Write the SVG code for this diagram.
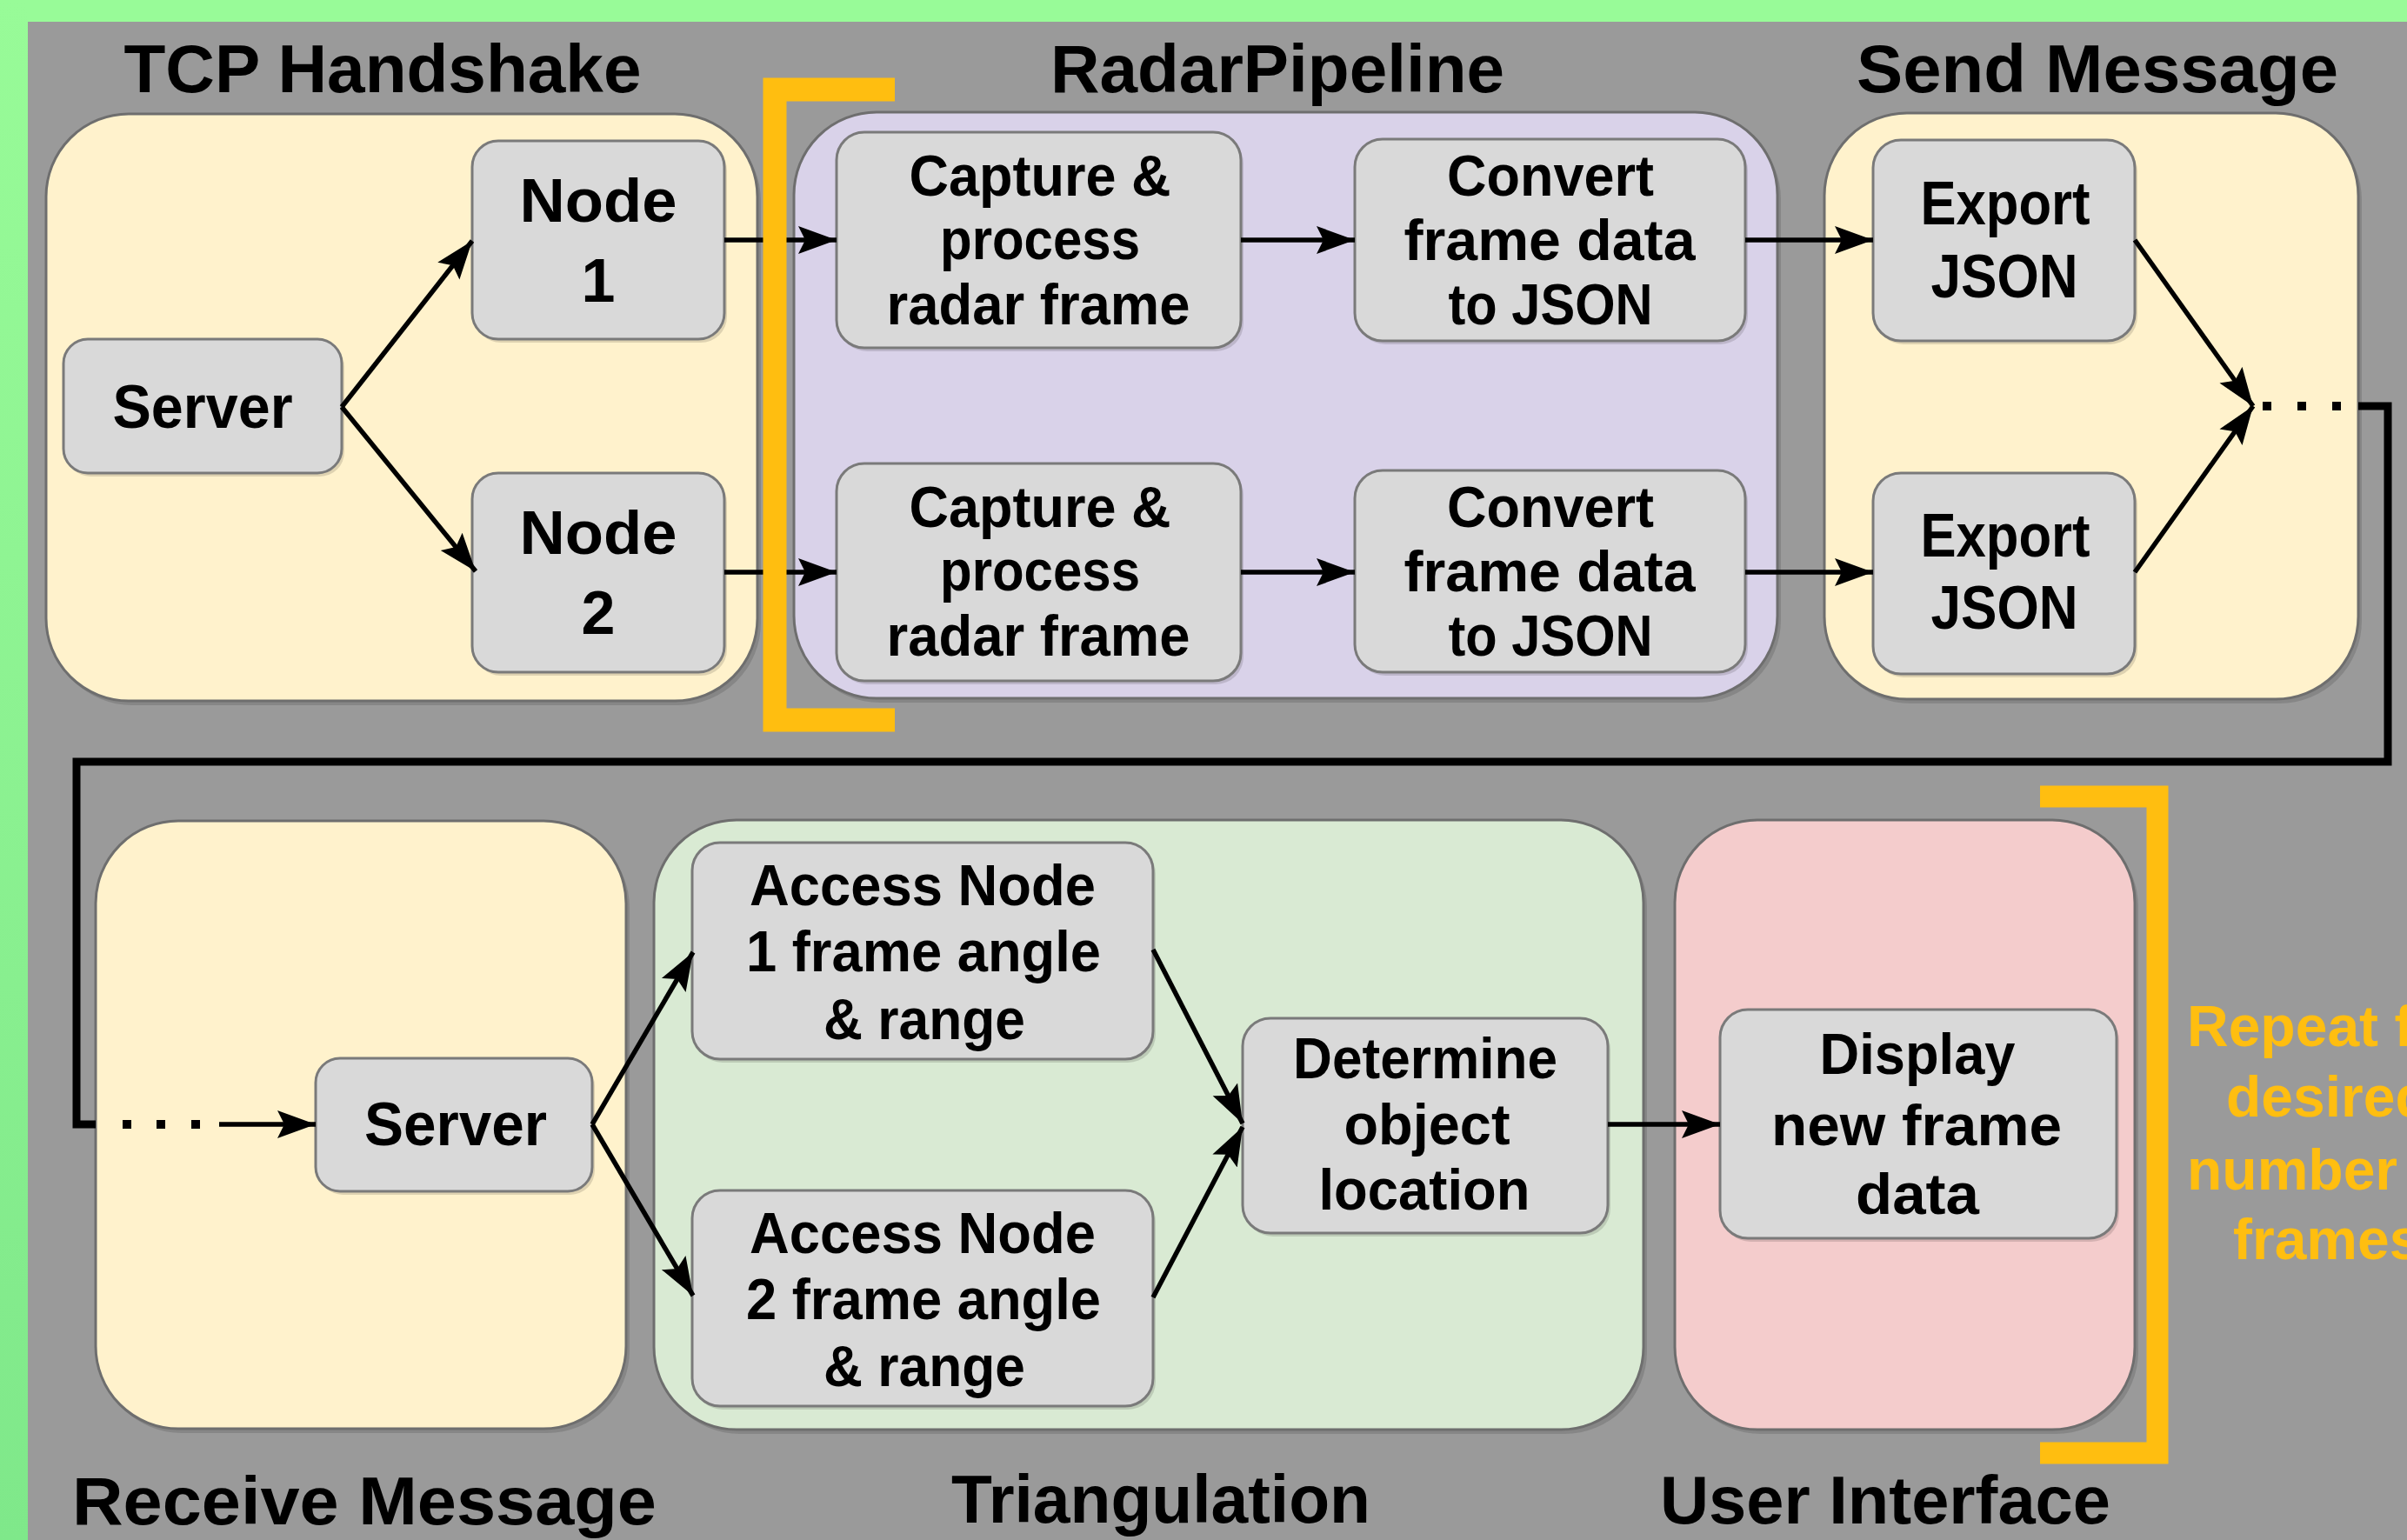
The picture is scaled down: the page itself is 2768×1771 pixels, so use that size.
<svg xmlns="http://www.w3.org/2000/svg" width="2768" height="1771" viewBox="0 0 2768 1771">
<style>
.bg{fill:#9a9a9a}
.cont{stroke:#6e6e6e;stroke-width:3}
.yel{fill:#fff2cc}
.lav{fill:#d9d2e9}
.grn{fill:#d9ead3}
.pnk{fill:#f4cccc}
.shd{fill:#000;opacity:0.13}
.node{fill:#d9d9d9;stroke:#7a7a7a;stroke-width:3}
text{font-family:"Liberation Sans","Noto Sans",Arial,sans-serif;font-weight:700;fill:#000;text-anchor:middle}
.title{font-size:77px}
.big{font-size:70px}
.mid{font-size:66px}
.rep{font-size:66px;fill:#ffbe10;text-anchor:start}
.conn{fill:none;stroke:#000;stroke-width:5.5}
.loop{fill:none;stroke:#000;stroke-width:9;stroke-linejoin:miter}
.dot{fill:#000}
.brk{fill:none;stroke:#ffbe10;stroke-linejoin:miter}
</style>
<defs>
<linearGradient id="gl" x1="0" y1="0" x2="0" y2="1">
<stop offset="0" stop-color="#98fb98"/>
<stop offset="1" stop-color="#7fe88a"/>
</linearGradient>
<marker id="ah" markerUnits="userSpaceOnUse" markerWidth="48" markerHeight="36" refX="44" refY="17" orient="auto">
<path d="M0,1 L44,17 L0,33 L8,17 z" fill="#000"/>
</marker>
</defs>
<rect x="0" y="0" width="2768" height="1771" fill="#98fb98"/>
<rect x="0" y="0" width="32" height="1771" fill="url(#gl)"/>
<rect class="bg" x="32" y="25" width="2736" height="1746"/>

<g id="tcp-handshake">
<rect class="shd" x="57" y="136" width="818" height="675" rx="95"/>
<rect class="cont yel" x="53" y="131" width="818" height="675" rx="95"/>
<text class="title" x="440" y="106" textLength="595" lengthAdjust="spacingAndGlyphs">TCP Handshake</text>
</g>
<g id="radar-pipeline">
<rect class="shd" x="917" y="134" width="1131" height="674" rx="95"/>
<rect class="cont lav" x="913" y="129" width="1131" height="674" rx="95"/>
<text class="title" x="1469" y="106" textLength="522" lengthAdjust="spacingAndGlyphs">RadarPipeline</text>
</g>
<g id="send-message">
<rect class="shd" x="2102" y="135" width="614" height="674" rx="95"/>
<rect class="cont yel" x="2098" y="130" width="614" height="674" rx="95"/>
<text class="title" x="2412" y="106" textLength="554" lengthAdjust="spacingAndGlyphs">Send Message</text>
</g>
<g id="receive-message">
<rect class="shd" x="114" y="949" width="610" height="699" rx="95"/>
<rect class="cont yel" x="110" y="944" width="610" height="699" rx="95"/>
<text class="title" x="419" y="1753" textLength="672" lengthAdjust="spacingAndGlyphs">Receive Message</text>
</g>
<g id="triangulation">
<rect class="shd" x="756" y="948" width="1138" height="701" rx="95"/>
<rect class="cont grn" x="752" y="943" width="1138" height="701" rx="95"/>
<text class="title" x="1335" y="1751" textLength="482" lengthAdjust="spacingAndGlyphs">Triangulation</text>
</g>
<g id="user-interface">
<rect class="shd" x="1930" y="948" width="529" height="701" rx="95"/>
<rect class="cont pnk" x="1926" y="943" width="529" height="701" rx="95"/>
<text class="title" x="2168" y="1752" textLength="518" lengthAdjust="spacingAndGlyphs">User Interface</text>
</g>

<g id="server-1">
<rect class="shd" x="76" y="394" width="320" height="154" rx="28"/>
<rect class="node" x="73" y="390" width="320" height="154" rx="28"/>
<text class="big" x="233" y="492" textLength="207" lengthAdjust="spacingAndGlyphs">Server</text>
</g>
<g id="node-1">
<rect class="shd" x="546" y="166" width="290" height="228" rx="30"/>
<rect class="node" x="543" y="162" width="290" height="228" rx="30"/>
<text class="big" x="688" y="255" textLength="181" lengthAdjust="spacingAndGlyphs">Node</text>
<text class="big" x="688" y="347">1</text>
</g>
<g id="node-2">
<rect class="shd" x="546" y="548" width="290" height="229" rx="30"/>
<rect class="node" x="543" y="544" width="290" height="229" rx="30"/>
<text class="big" x="688" y="637" textLength="181" lengthAdjust="spacingAndGlyphs">Node</text>
<text class="big" x="688" y="729">2</text>
</g>
<g id="capture-1">
<rect class="shd" x="965" y="156" width="465" height="248" rx="32"/>
<rect class="node" x="962" y="152" width="465" height="248" rx="32"/>
<text class="mid" x="1196" y="225" textLength="301" lengthAdjust="spacingAndGlyphs">Capture &amp;</text>
<text class="mid" x="1196" y="298" textLength="230" lengthAdjust="spacingAndGlyphs">process</text>
<text class="mid" x="1194" y="373" textLength="349" lengthAdjust="spacingAndGlyphs">radar frame</text>
</g>
<g id="capture-2">
<rect class="shd" x="965" y="537" width="465" height="250" rx="32"/>
<rect class="node" x="962" y="533" width="465" height="250" rx="32"/>
<text class="mid" x="1196" y="606" textLength="301" lengthAdjust="spacingAndGlyphs">Capture &amp;</text>
<text class="mid" x="1196" y="679" textLength="230" lengthAdjust="spacingAndGlyphs">process</text>
<text class="mid" x="1194" y="754" textLength="349" lengthAdjust="spacingAndGlyphs">radar frame</text>
</g>
<g id="convert-1">
<rect class="shd" x="1561" y="164" width="449" height="232" rx="32"/>
<rect class="node" x="1558" y="160" width="449" height="232" rx="32"/>
<text class="mid" x="1783" y="225" textLength="238" lengthAdjust="spacingAndGlyphs">Convert</text>
<text class="mid" x="1782" y="299" textLength="335" lengthAdjust="spacingAndGlyphs">frame data</text>
<text class="mid" x="1783" y="373" textLength="235" lengthAdjust="spacingAndGlyphs">to JSON</text>
</g>
<g id="convert-2">
<rect class="shd" x="1561" y="545" width="449" height="232" rx="32"/>
<rect class="node" x="1558" y="541" width="449" height="232" rx="32"/>
<text class="mid" x="1783" y="606" textLength="238" lengthAdjust="spacingAndGlyphs">Convert</text>
<text class="mid" x="1782" y="680" textLength="335" lengthAdjust="spacingAndGlyphs">frame data</text>
<text class="mid" x="1783" y="754" textLength="235" lengthAdjust="spacingAndGlyphs">to JSON</text>
</g>
<g id="export-1">
<rect class="shd" x="2157" y="165" width="301" height="231" rx="32"/>
<rect class="node" x="2154" y="161" width="301" height="231" rx="32"/>
<text class="big" x="2306" y="258" textLength="195" lengthAdjust="spacingAndGlyphs">Export</text>
<text class="big" x="2305" y="342" textLength="169" lengthAdjust="spacingAndGlyphs">JSON</text>
</g>
<g id="export-2">
<rect class="shd" x="2157" y="548" width="301" height="231" rx="32"/>
<rect class="node" x="2154" y="544" width="301" height="231" rx="32"/>
<text class="big" x="2306" y="640" textLength="195" lengthAdjust="spacingAndGlyphs">Export</text>
<text class="big" x="2305" y="723" textLength="169" lengthAdjust="spacingAndGlyphs">JSON</text>
</g>
<g id="server-2">
<rect class="shd" x="366" y="1221" width="318" height="153" rx="28"/>
<rect class="node" x="363" y="1217" width="318" height="153" rx="28"/>
<text class="big" x="524" y="1317" textLength="210" lengthAdjust="spacingAndGlyphs">Server</text>
</g>
<g id="access-1">
<rect class="shd" x="799" y="973" width="530" height="249" rx="32"/>
<rect class="node" x="796" y="969" width="530" height="249" rx="32"/>
<text class="mid" x="1061" y="1041" textLength="398" lengthAdjust="spacingAndGlyphs">Access Node</text>
<text class="mid" x="1062" y="1117" textLength="408" lengthAdjust="spacingAndGlyphs">1 frame angle</text>
<text class="mid" x="1063" y="1195" textLength="232" lengthAdjust="spacingAndGlyphs">&amp; range</text>
</g>
<g id="access-2">
<rect class="shd" x="799" y="1373" width="530" height="248" rx="32"/>
<rect class="node" x="796" y="1369" width="530" height="248" rx="32"/>
<text class="mid" x="1061" y="1441" textLength="398" lengthAdjust="spacingAndGlyphs">Access Node</text>
<text class="mid" x="1062" y="1517" textLength="408" lengthAdjust="spacingAndGlyphs">2 frame angle</text>
<text class="mid" x="1063" y="1594" textLength="232" lengthAdjust="spacingAndGlyphs">&amp; range</text>
</g>
<g id="determine">
<rect class="shd" x="1432" y="1175" width="420" height="247" rx="32"/>
<rect class="node" x="1429" y="1171" width="420" height="247" rx="32"/>
<text class="mid" x="1639" y="1240" textLength="304" lengthAdjust="spacingAndGlyphs">Determine</text>
<text class="mid" x="1641" y="1316" textLength="191" lengthAdjust="spacingAndGlyphs">object</text>
<text class="mid" x="1638" y="1391" textLength="243" lengthAdjust="spacingAndGlyphs">location</text>
</g>
<g id="display">
<rect class="shd" x="1981" y="1165" width="456" height="263" rx="32"/>
<rect class="node" x="1978" y="1161" width="456" height="263" rx="32"/>
<text class="mid" x="2205" y="1235" textLength="225" lengthAdjust="spacingAndGlyphs">Display</text>
<text class="mid" x="2204" y="1317" textLength="334" lengthAdjust="spacingAndGlyphs">new frame</text>
<text class="mid" x="2205" y="1396" textLength="142" lengthAdjust="spacingAndGlyphs">data</text>
</g>

<g id="connectors">
<line class="conn" x1="393" y1="468" x2="543" y2="277" marker-end="url(#ah)"/>
<line class="conn" x1="393" y1="468" x2="547" y2="657" marker-end="url(#ah)"/>
<line class="conn" x1="833" y1="276" x2="962" y2="276" marker-end="url(#ah)"/>
<line class="conn" x1="833" y1="658" x2="962" y2="658" marker-end="url(#ah)"/>
<line class="conn" x1="1427" y1="276" x2="1558" y2="276" marker-end="url(#ah)"/>
<line class="conn" x1="1427" y1="658" x2="1558" y2="658" marker-end="url(#ah)"/>
<line class="conn" x1="2007" y1="276" x2="2154" y2="276" marker-end="url(#ah)"/>
<line class="conn" x1="2007" y1="658" x2="2154" y2="658" marker-end="url(#ah)"/>
<line class="conn" x1="2455" y1="276" x2="2591" y2="467" marker-end="url(#ah)"/>
<line class="conn" x1="2455" y1="658" x2="2591" y2="467" marker-end="url(#ah)"/>
<rect class="dot" x="2602" y="462" width="10" height="10"/>
<rect class="dot" x="2642" y="462" width="10" height="10"/>
<rect class="dot" x="2682" y="462" width="10" height="10"/>
<polyline class="loop" points="2712,467 2746,467 2746,876 88,876 88,1293 110,1293"/>
<rect class="dot" x="141" y="1288" width="10" height="10"/>
<rect class="dot" x="180" y="1288" width="10" height="10"/>
<rect class="dot" x="220" y="1288" width="10" height="10"/>
<line class="conn" x1="252" y1="1293" x2="363" y2="1293" marker-end="url(#ah)"/>
<line class="conn" x1="681" y1="1293" x2="797" y2="1095" marker-end="url(#ah)"/>
<line class="conn" x1="681" y1="1293" x2="797" y2="1490" marker-end="url(#ah)"/>
<line class="conn" x1="1326" y1="1092" x2="1429" y2="1292" marker-end="url(#ah)"/>
<line class="conn" x1="1326" y1="1492" x2="1429" y2="1296" marker-end="url(#ah)"/>
<line class="conn" x1="1849" y1="1293" x2="1978" y2="1293" marker-end="url(#ah)"/>
</g>

<g id="repeat-bracket">
<path class="brk" stroke-width="27" d="M1029,103 H891 V828 H1029"/>
<path class="brk" stroke-width="25" d="M2346,916 H2481 V1671 H2346"/>
<text class="rep" x="2515" y="1203">Repeat for</text>
<text class="rep" x="2560" y="1284">desired</text>
<text class="rep" x="2515" y="1368">number of</text>
<text class="rep" x="2568" y="1448">frames</text>
</g>
</svg>
